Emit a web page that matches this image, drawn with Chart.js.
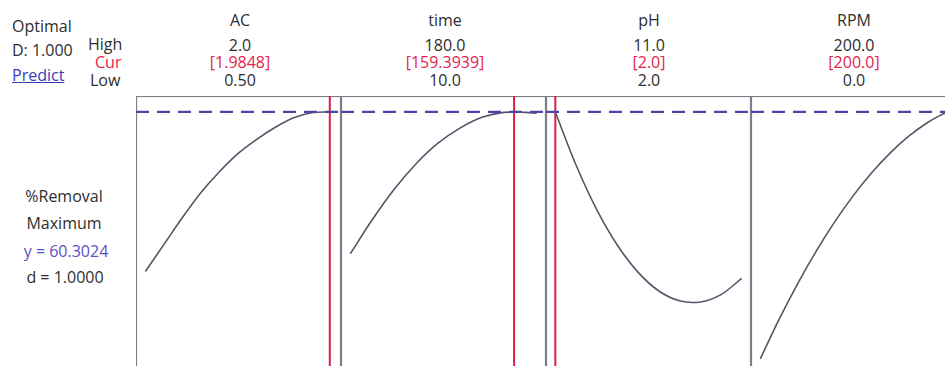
<!DOCTYPE html>
<html>
<head>
<meta charset="utf-8">
<script src="https://cdn.jsdelivr.net/npm/chart.js@4.4.1/dist/chart.umd.min.js"></script>
<style>
  html, body { margin: 0; padding: 0; background: #fff; overflow: hidden; width: 945px; height: 366px; }
  body { position: relative; font-family: "Open Sans", sans-serif; font-size: 16px; color: #2e2e2e; }
  .t { position: absolute; white-space: nowrap; line-height: 18px; }
  .c { transform: translateX(-50%); }
  .panel { position: absolute; top: 96px; }
</style>
</head>
<body>
<canvas id="p0" class="panel" width="205" height="354" style="left:136px"></canvas>
<canvas id="p1" class="panel" width="205" height="354" style="left:341px"></canvas>
<canvas id="p2" class="panel" width="205" height="354" style="left:546px"></canvas>
<canvas id="p3" class="panel" width="205" height="354" style="left:751px"></canvas>
<script>
// factor settings
const factors = ['AC', 'time', 'pH', 'RPM'];
const highLabels = ['2.0', '180.0', '11.0', '200.0'];
const curLabels = ['[1.9848]', '[159.3939]', '[2.0]', '[200.0]'];
const lowLabels = ['0.50', '10.0', '2.0', '0.0'];
const lowVals = [0.5, 10, 2, 0];
const highVals = [2.0, 180, 11, 200];
const curVals = [1.9848, 159.3939, 2.0, 200.0];

// predicted %Removal along each factor
const acX = [0.5, 0.65, 0.8, 0.95, 1.1, 1.25, 1.4, 1.55, 1.7, 1.85, 2.0];
const acY = [42.27, 45.33, 48.39, 51.22, 53.60, 55.64, 57.23, 58.59, 59.66, 60.23, 60.30];
const timeX = [10, 30, 50, 70, 90, 110, 130, 150, 170, 180];
const timeY = [44.28, 48.11, 51.56, 54.45, 56.77, 58.47, 59.69, 60.25, 60.25, 60.15];
const phX = [2, 3, 4, 5, 6, 7, 8, 9, 10, 11];
const phY = [60.30, 54.30, 49.26, 45.23, 42.17, 40.07, 38.96, 38.83, 39.66, 41.48];
const rpmX = [0, 20, 40, 60, 80, 100, 120, 140, 160, 180, 200];
const rpmY = [32.40, 36.82, 40.88, 44.57, 47.90, 50.87, 53.48, 55.73, 57.61, 59.13, 60.30];

const yOpt = 60.3024;
const yMin = 22.1, yMax = 62.1;

const curveX = [acX, timeX, phX, rpmX];
const curveY = [acY, timeY, phY, rpmY];

function addText(txt, x, y, color, center, extra) {
  const d = document.createElement('div');
  d.className = 't' + (center ? ' c' : '');
  d.textContent = txt;
  d.style.left = x + 'px';
  d.style.top = (y - 8.5) + 'px';
  if (color) d.style.color = color;
  if (extra) Object.assign(d.style, extra);
  document.body.appendChild(d);
}

// left header block
addText('Optimal', 12, 25);
addText('D: 1.000', 12, 49);
addText('Predict', 12, 74, '#3b3bb8', false, { textDecoration: 'underline' });
addText('High', 88, 43);
addText('Cur', 95, 61, '#e2244b');
addText('Low', 90, 79);

// response block
addText('%Removal', 64, 195, null, true);
addText('Maximum', 64, 222, null, true);
addText('y = 60.3024', 66, 250, '#5a50c4', true);
addText('d = 1.0000', 65, 276, null, true);

const boxPlugin = {
  id: 'box',
  beforeDatasetsDraw(chart) {
    const a = chart.chartArea, ctx = chart.ctx;
    ctx.save();
    ctx.strokeStyle = '#7c7c8a';
    ctx.lineWidth = 1.2;
    ctx.strokeRect(a.left + 0.5, a.top + 0.5, a.right - a.left - 1, a.bottom - a.top - 1);
    ctx.restore();
  }
};

factors.forEach((name, i) => {
  const lo = lowVals[i], hi = highVals[i];
  const pad = (hi - lo) * 0.05;
  const xMin = lo - pad, xMax = hi + pad;
  const center = [240, 445, 649, 854][i];

  addText(name, center, 19, null, true);
  addText(highLabels[i], center, 44, null, true);
  addText(curLabels[i], center, 61, '#e2244b', true);
  addText(lowLabels[i], center, 79, null, true);

  const pts = curveX[i].map((x, k) => ({ x: x, y: curveY[i][k] }));

  new Chart(document.getElementById('p' + i), {
    type: 'line',
    data: {
      datasets: [
        {
          data: [{ x: xMin, y: yOpt }, { x: xMax, y: yOpt }],
          borderColor: '#4a48a6',
          borderWidth: 2.4,
          borderDash: [13, 8],
          pointRadius: 0
        },
        {
          data: pts,
          borderColor: '#55556a',
          borderWidth: 1.6,
          pointRadius: 0,
          tension: 0.35
        },
        {
          data: [{ x: curVals[i], y: yMin }, { x: curVals[i], y: yMax }],
          borderColor: '#dc1e44',
          borderWidth: 2,
          pointRadius: 0
        }
      ]
    },
    options: {
      responsive: false,
      animation: false,
      layout: { padding: 0 },
      plugins: { legend: { display: false }, tooltip: { enabled: false } },
      scales: {
        x: { type: 'linear', min: xMin, max: xMax, display: false },
        y: { min: yMin, max: yMax, display: false }
      }
    },
    plugins: [boxPlugin]
  });
});
</script>
</body>
</html>
